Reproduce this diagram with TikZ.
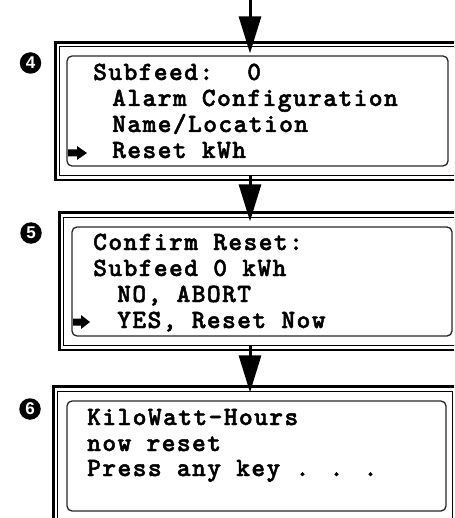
\documentclass[tikz,border=0pt]{standalone}
\usepackage{fontspec}
\setsansfont{Liberation Sans}
\newfontfamily\lcdfont{lmmonolt10-bold.otf}[LetterSpace=5.2,FakeBold=1.8]
\usetikzlibrary{arrows.meta}
\begin{document}
\begin{tikzpicture}[x=1pt,y=-1pt,
  outerframe/.style={line width=2.6pt},
  innerframe/.style={line width=0.9pt},
  lcd/.style={draw=black!85, line width=1.3pt, rounded corners=5pt, inner sep=0pt},
  txt/.style={font=\fontsize{26.3}{26}\lcdfont, anchor=base west, inner sep=0pt},
  num/.style={circle, fill=black, text=white, minimum size=21.5pt, inner sep=0pt, font=\fontsize{17}{17}\selectfont\sffamily\bfseries},
  flow/.style={line width=3pt, -{Triangle[length=37pt,width=22pt]}},
  cursor/.style={fill=black}
]
\useasboundingbox (0,0) rectangle (454,518);
\clip (0,0) rectangle (454,518);

% ---- frames
\draw[outerframe] (475,42.5) -- (55.5,42.5) -- (55.5,180) -- (475,180);
\draw[innerframe] (475,46.5) -- (59.5,46.5) -- (59.5,175.5) -- (475,175.5);
\draw[outerframe] (475,212.5) -- (59.5,212.5) -- (59.5,350) -- (475,350);
\draw[innerframe] (475,217.5) -- (63.5,217.5) -- (63.5,345) -- (475,345);
\draw[outerframe] (475,386.5) -- (53.5,386.5) -- (53.5,530);
\draw[innerframe] (57.5,530) -- (57.5,391.5) -- (452,391.5) -- (452,530);

% ---- lcd screens
\node[lcd, minimum width=381pt, minimum height=110pt] (lcd4) at (257.5,111) {};
\node[lcd, minimum width=380pt, minimum height=109pt] (lcd5) at (262,281.5) {};
\node[lcd, minimum width=379pt, minimum height=110pt] (lcd6) at (256.5,456) {};

% ---- step numbers
\node[num] (n4) at (30.5,63) {4};
\node[num] (n5) at (31,233) {5};
\node[num] (n6) at (30,409) {6};

% ---- texts
\node[txt] (t41) at (93,80) {Subfeed:\hspace{34pt}0};
\node[txt] (t42) at (112,106) {Alarm Configuration};
\node[txt] (t43) at (112,132) {Name/Location};
\node[txt] (t44) at (112,158) {Reset kWh};

\node[txt] (t51) at (93,250) {Confirm Reset:};
\node[txt] (t52) at (93,276) {Subfeed 0 kWh};
\node[txt] (t53) at (117,302) {NO, ABORT};
\node[txt] (t54) at (117,328) {YES, Reset Now};

\node[txt] (t61) at (87,425) {KiloWatt-Hours};
\node[txt] (t62) at (87,451) {now reset};
\node[txt] (t63) at (87,476) {Press any key . . .};

% ---- cursors
\fill[cursor] (68,149.5) -- (77,149.5) -- (77,146) -- (87,153) -- (77,160) -- (77,156.5) -- (68,156.5) -- cycle;
\fill[cursor] (73,318.5) -- (81,318.5) -- (81,315) -- (90,322) -- (81,329) -- (81,325.5) -- (73,325.5) -- cycle;

% ---- flow arrows
\coordinate (a0) at (250,0);
\coordinate (a1) at (250,176);
\coordinate (a2) at (250,345);
\draw[flow, shorten >=2pt] (a0) -- (a0 |- lcd4.north);
\draw[flow, shorten >=5pt] (a1) -- (a1 |- lcd5.north);
\draw[flow, shorten >=8pt] (a2) -- (a2 |- lcd6.north);
\end{tikzpicture}
\end{document}
